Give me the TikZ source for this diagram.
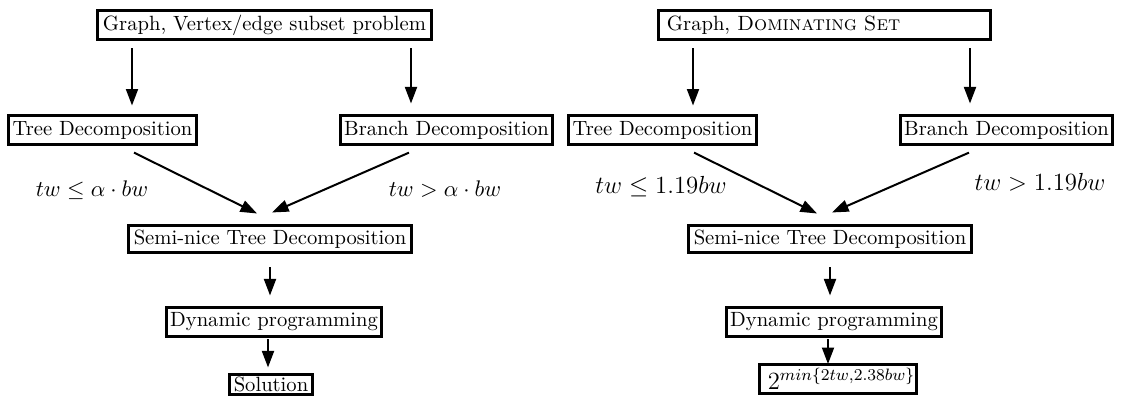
\documentclass[tikz,border=0pt]{standalone}
\usepackage{amsmath}
\usetikzlibrary{arrows.meta,calc}
\tikzset{
  box/.style={draw, line width=1.45pt, inner sep=0pt, inner xsep=1pt, font=\fontsize{10}{12}\selectfont},
  arr/.style={line width=0.97pt, -{Triangle[length=8pt,width=5.8pt]}},
  lbl/.style={inner sep=0pt, font=\fontsize{11}{13}\selectfont},
  lblbig/.style={inner sep=0pt, font=\fontsize{12.7}{15}\selectfont},
}
\begin{document}
\begin{tikzpicture}[x=0.485pt,y=-0.485pt]
\useasboundingbox (0,0) rectangle (1123,397);
% ---------- left diagram ----------
\node[box, minimum width=162pt, minimum height=14.1pt] (ltop) at (264.5,25) {Graph, Vertex/edge subset problem};
\node[box, minimum width=91.2pt, minimum height=14.1pt] (ltree) at (102.5,130) {Tree Decomposition};
\node[box, minimum width=102.8pt, minimum height=14.1pt] (lbranch) at (446.5,130) {Branch Decomposition};
\node[box, minimum width=137.3pt, minimum height=13.1pt] (lsemi) at (270,239) {Semi-nice Tree Decomposition};
\node[box, minimum width=104.3pt, minimum height=14.1pt] (ldp) at (274,322) {Dynamic programming};
\node[box, minimum width=40.3pt, minimum height=9.7pt] (lsol) at (271,384.5) {Solution};
\node[lbl] (lcond1) at (92,190) {$tw \leq \alpha \cdot bw$};
\node[lbl] (lcond2) at (445,189) {$tw > \alpha \cdot bw$};
\draw[arr, shorten <=3.6pt, shorten >=4.1pt] (ltop.south -| 132,0) -- (ltree.north -| 132,0);
\draw[arr, shorten <=3.6pt, shorten >=5.1pt] (ltop.south -| 411,0) -- (lbranch.north -| 411,0);
\draw[arr] ([xshift=15.3pt,yshift=-3.2pt]ltree.south) -- ([xshift=-6.3pt,yshift=5.1pt]lsemi.north);
\draw[arr] ([xshift=-18.2pt,yshift=-3.2pt]lbranch.south) -- ([xshift=1pt,yshift=5.6pt]lsemi.north);
\draw[arr, shorten <=6.5pt, shorten >=5.1pt] (lsemi.south -| 270,0) -- (ldp.north -| 270,0);
\draw[arr, shorten <=0.7pt, shorten >=2.7pt] (ldp.south -| 268,0) -- (lsol.north -| 268,0);
% ---------- right diagram ----------
\node[box, inner xsep=4.1pt, text width=152.8pt, align=left, minimum height=14.1pt] (rtop) at (824.5,25) {Graph, \textsc{Dominating Set}};
\node[box, minimum width=91.2pt, minimum height=14.1pt] (rtree) at (662.5,130) {Tree Decomposition};
\node[box, minimum width=102.8pt, minimum height=14.1pt] (rbranch) at (1006.5,130) {Branch Decomposition};
\node[box, minimum width=137.3pt, minimum height=13.1pt] (rsemi) at (830,239) {Semi-nice Tree Decomposition};
\node[box, minimum width=104.3pt, minimum height=14.1pt] (rdp) at (834,322) {Dynamic programming};
\node[box, font=\fontsize{11.7}{14}\selectfont, inner xsep=0pt, minimum width=76.1pt, minimum height=14.1pt] (rres) at (838,379) {\makebox[76.1pt][l]{\hspace{4pt}$2^{min\{2tw,2.38bw\}}$}};
\node[lblbig] (rcond1) at (661,187) {$tw \leq 1.19bw$};
\node[lblbig] (rcond2) at (1040,182) {$tw > 1.19bw$};
\draw[arr, shorten <=3.6pt, shorten >=4.1pt] (rtop.south -| 693,0) -- (rtree.north -| 693,0);
\draw[arr, shorten <=3.6pt, shorten >=5.1pt] (rtop.south -| 970,0) -- (rbranch.north -| 970,0);
\draw[arr] ([xshift=15.3pt,yshift=-3.2pt]rtree.south) -- ([xshift=-6.3pt,yshift=5.1pt]rsemi.north);
\draw[arr] ([xshift=-18.2pt,yshift=-3.2pt]rbranch.south) -- ([xshift=1pt,yshift=5.6pt]rsemi.north);
\draw[arr, shorten <=6.5pt, shorten >=5.1pt] (rsemi.south -| 830,0) -- (rdp.north -| 830,0);
\draw[arr, shorten <=0.7pt, shorten >=-0.5pt] (rdp.south -| 828,0) -- (rres.north -| 828,0);
\end{tikzpicture}
\end{document}
